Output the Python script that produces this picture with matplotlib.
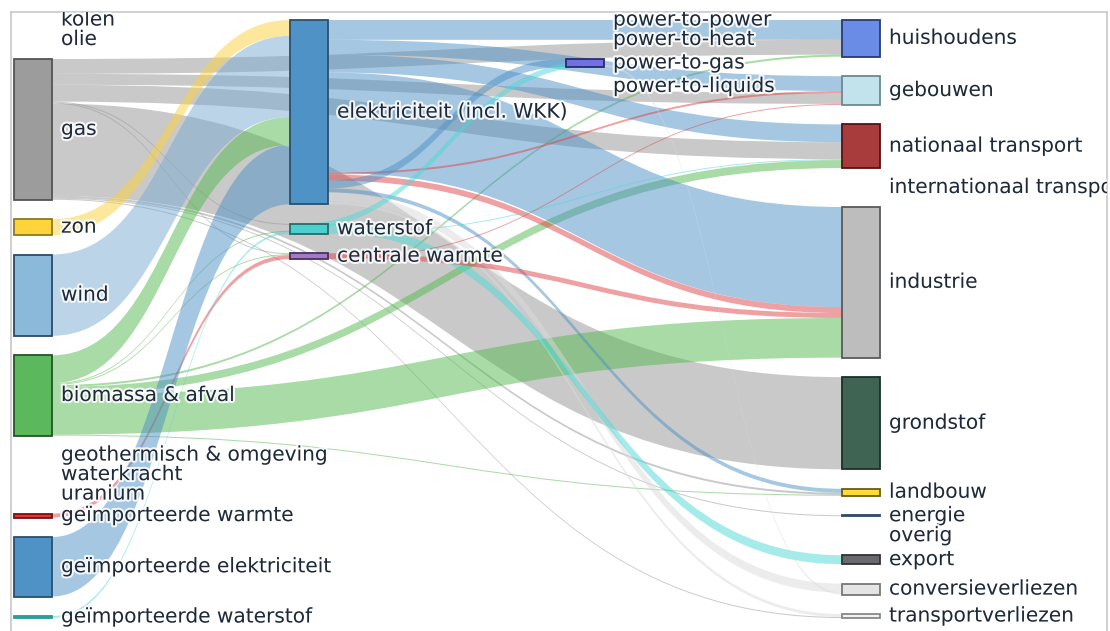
import matplotlib
matplotlib.use("Agg")
import matplotlib.pyplot as plt
from matplotlib.path import Path
from matplotlib.patches import PathPatch, Rectangle
import matplotlib.patheffects as pe

# ---------------- data ----------------
node_labels = [
    "kolen", "olie", "gas", "zon", "wind", "biomassa & afval",
    "geothermisch & omgeving", "waterkracht", "uranium",
    "geïmporteerde warmte", "geïmporteerde elektriciteit", "geïmporteerde waterstof",
    "elektriciteit (incl. WKK)", "waterstof", "centrale warmte",
    "power-to-power", "power-to-heat", "power-to-gas", "power-to-liquids",
    "huishoudens", "gebouwen", "nationaal transport", "internationaal transport",
    "industrie", "grondstof", "landbouw", "energie", "overig", "export",
    "conversieverliezen", "transportverliezen",
]
node_columns = [0] * 12 + [1] * 3 + [2] * 4 + [3] * 12

link_source = [
    "gas", "gas", "gas", "gas", "gas", "gas", "gas", "gas", "gas",
    "zon", "wind",
    "biomassa & afval", "biomassa & afval", "biomassa & afval", "biomassa & afval",
    "biomassa & afval", "biomassa & afval", "biomassa & afval",
    "geïmporteerde warmte", "geïmporteerde elektriciteit", "geïmporteerde waterstof",
    "elektriciteit (incl. WKK)", "elektriciteit (incl. WKK)", "elektriciteit (incl. WKK)",
    "elektriciteit (incl. WKK)", "elektriciteit (incl. WKK)", "elektriciteit (incl. WKK)",
    "elektriciteit (incl. WKK)", "elektriciteit (incl. WKK)", "elektriciteit (incl. WKK)",
    "elektriciteit (incl. WKK)",
    "waterstof", "waterstof",
    "centrale warmte", "centrale warmte",
    "power-to-gas", "power-to-gas",
]
link_target = [
    "huishoudens", "gebouwen", "nationaal transport", "waterstof", "centrale warmte",
    "grondstof", "landbouw", "energie", "transportverliezen",
    "elektriciteit (incl. WKK)", "elektriciteit (incl. WKK)",
    "elektriciteit (incl. WKK)", "waterstof", "centrale warmte", "huishoudens",
    "nationaal transport", "industrie", "landbouw",
    "centrale warmte", "elektriciteit (incl. WKK)", "waterstof",
    "huishoudens", "gebouwen", "nationaal transport", "industrie", "gebouwen",
    "industrie", "power-to-gas", "landbouw", "conversieverliezen", "transportverliezen",
    "export", "nationaal transport",
    "industrie", "gebouwen",
    "waterstof", "conversieverliezen",
]
link_value = [
    15, 11, 17, 1, 1, 93, 2, 1, 1,
    16, 82,
    28, 1, 1, 2, 8, 40, 1,
    4, 60, 2,
    20, 15, 18, 101, 2, 6, 8, 4, 9, 3,
    9, 1,
    5, 1,
    6, 2,
]
link_carrier = [
    "gas", "gas", "gas", "gas", "gas", "gas", "gas", "gas", "gas",
    "zon", "wind",
    "bio", "bio", "bio", "bio", "bio", "bio", "bio",
    "heat", "elek", "h2",
    "elek", "elek", "elek", "elek", "heat", "heat", "elek", "elek", "loss", "loss",
    "h2", "h2",
    "heat", "heat",
    "h2", "loss",
]

# ---------------- style ----------------
carrier_colors = {
    "gas": (0.58, 0.58, 0.58, 0.5),
    "elek": (0.30, 0.57, 0.77, 0.5),
    "wind": (0.47, 0.67, 0.82, 0.5),
    "zon": (0.99, 0.82, 0.23, 0.5),
    "bio": (0.32, 0.72, 0.30, 0.5),
    "heat": (0.88, 0.26, 0.28, 0.5),
    "h2": (0.30, 0.85, 0.84, 0.5),
    "loss": (0.86, 0.86, 0.86, 0.5),
}
node_face = {
    "kolen": "#555555", "olie": "#444444", "gas": "#9c9c9c", "zon": "#ffd43b",
    "wind": "#8ab9da", "biomassa & afval": "#5cb85c",
    "geothermisch & omgeving": "#d98c4a", "waterkracht": "#3a6ea5", "uranium": "#b0b000",
    "geïmporteerde warmte": "#d9383a", "geïmporteerde elektriciteit": "#4f93c6",
    "geïmporteerde waterstof": "#40c8c0",
    "elektriciteit (incl. WKK)": "#4f93c6", "waterstof": "#4ecfcf",
    "centrale warmte": "#a07cc8",
    "power-to-power": "#7070e0", "power-to-heat": "#7070e0", "power-to-gas": "#7070e0",
    "power-to-liquids": "#7070e0",
    "huishoudens": "#6a8ce6", "gebouwen": "#c2e2ec", "nationaal transport": "#a83c3c",
    "internationaal transport": "#7a2020", "industrie": "#bdbdbd", "grondstof": "#3f6454",
    "landbouw": "#ffdc3c", "energie": "#2f4a66", "overig": "#888888",
    "export": "#6a6a6e", "conversieverliezen": "#e4e4e4", "transportverliezen": "#f2f2f2",
}
node_edge = {
    "gas": "#555555", "zon": "#8a7a20", "wind": "#2b4a66", "biomassa & afval": "#245424",
    "geïmporteerde warmte": "#7a1010", "geïmporteerde elektriciteit": "#2b4f6e",
    "geïmporteerde waterstof": "#2a9a94", "elektriciteit (incl. WKK)": "#2b4f6e",
    "waterstof": "#2a6a6a", "centrale warmte": "#4a3060", "power-to-gas": "#2a2a70",
    "huishoudens": "#2a3a70", "gebouwen": "#6a8a90", "nationaal transport": "#5a1010",
    "industrie": "#5a5a5a", "grondstof": "#1a3026", "landbouw": "#6a5a10",
    "energie": "#2f4a66", "export": "#333333", "conversieverliezen": "#777777",
    "transportverliezen": "#888888",
}

W, H = 1110, 631
frame_l, frame_r, frame_t = 11, 1107, 12
col_x0, col_step, node_w = 14, 276, 38
top, bottom, pad = 20, 618, 19.5

# ---------------- layout ----------------
n = len(node_labels)
idx = {lab: i for i, lab in enumerate(node_labels)}
src = [idx[s] for s in link_source]
tgt = [idx[t] for t in link_target]
vin = [0.0] * n
vout = [0.0] * n
for s, t, v in zip(src, tgt, link_value):
    vout[s] += v
    vin[t] += v
nval = [max(a, b) for a, b in zip(vin, vout)]

cols = sorted(set(node_columns))
ky = min(
    (bottom - top - pad * (sum(1 for c in node_columns if c == col) - 1))
    / sum(nval[i] for i in range(n) if node_columns[i] == col)
    for col in cols
)
y0 = [0.0] * n
y1 = [0.0] * n
x0 = [0.0] * n
for col in cols:
    y = top
    for i in range(n):
        if node_columns[i] == col:
            y0[i] = y
            y1[i] = y + nval[i] * ky
            y = y1[i] + pad
            x0[i] = col_x0 + col * col_step

# link breadths
L = len(link_value)
ls0 = [0.0] * L
lt0 = [0.0] * L
off = y0[:]
for k in range(L):
    ls0[k] = off[src[k]]
    off[src[k]] += link_value[k] * ky
off = y0[:]
for k in sorted(range(L), key=lambda k: (y0[src[k]], k)):
    lt0[k] = off[tgt[k]]
    off[tgt[k]] += link_value[k] * ky

# ---------------- draw ----------------
fig = plt.figure(figsize=(W / 100, H / 100), dpi=100)
ax = fig.add_axes([frame_l / W, 0, (frame_r - frame_l) / W, (H - frame_t) / H])
ax.set_xlim(frame_l, frame_r)
ax.set_ylim(H, frame_t)
ax.set_xticks([])
ax.set_yticks([])
for side in ("top", "left", "right"):
    ax.spines[side].set_color("#c8c8c8")
    ax.spines[side].set_linewidth(1.2)
ax.spines["bottom"].set_visible(False)

for k in range(L):
    s, t = src[k], tgt[k]
    w = link_value[k] * ky
    xa = x0[s] + node_w
    xb = x0[t]
    xm = (xa + xb) / 2
    a0, b0 = ls0[k], lt0[k]
    verts = [(xa, a0), (xm, a0), (xm, b0), (xb, b0),
             (xb, b0 + w), (xm, b0 + w), (xm, a0 + w), (xa, a0 + w), (xa, a0)]
    codes = [Path.MOVETO, Path.CURVE4, Path.CURVE4, Path.CURVE4,
             Path.LINETO, Path.CURVE4, Path.CURVE4, Path.CURVE4, Path.CLOSEPOLY]
    ax.add_patch(PathPatch(Path(verts, codes), facecolor=carrier_colors[link_carrier[k]],
                           edgecolor="none", zorder=1))

halo = [pe.withStroke(linewidth=3, foreground="white", alpha=0.85)]
for i in range(n):
    lab = node_labels[i]
    if nval[i] > 0:
        ax.add_patch(Rectangle((x0[i], y0[i]), node_w, y1[i] - y0[i],
                               facecolor=node_face[lab],
                               edgecolor=node_edge.get(lab, "#333333"),
                               linewidth=1.3, zorder=3))
    ax.text(x0[i] + node_w + 9, (y0[i] + y1[i]) / 2, lab, fontsize=14.5,
            family="DejaVu Sans", color="#1e2a3a", va="center", ha="left",
            path_effects=halo, zorder=5, clip_on=True)

fig.savefig("out.png", dpi=100)
